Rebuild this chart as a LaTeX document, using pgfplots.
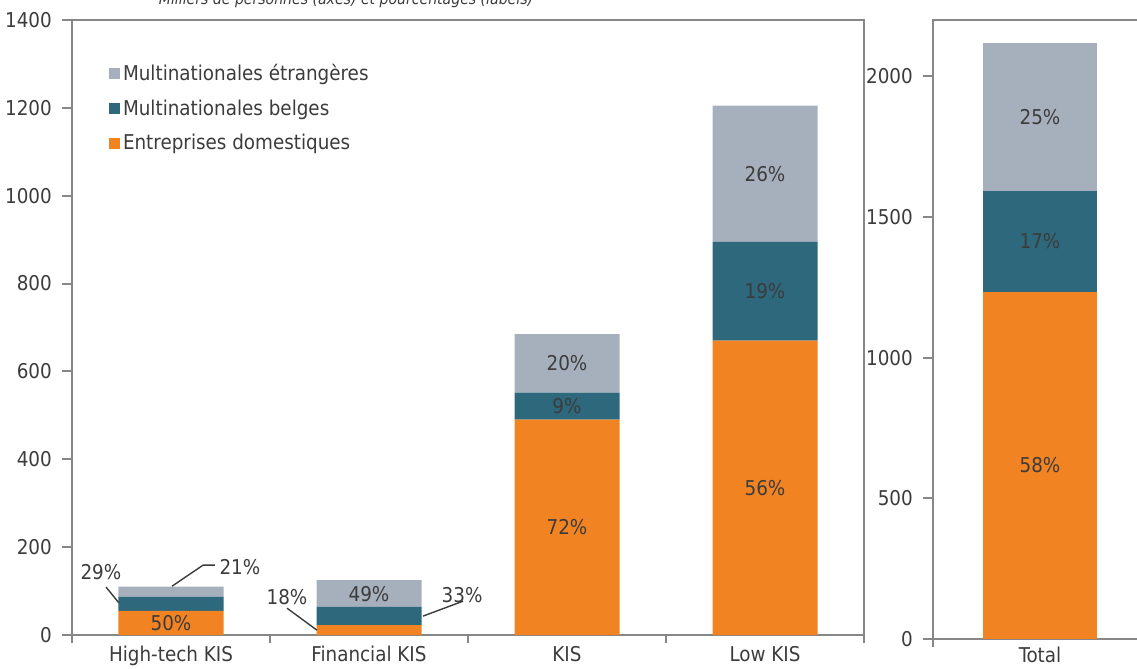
\documentclass[border=0pt]{standalone}
\usepackage{fontspec}
\setmainfont{DejaVu Sans Condensed}
\usepackage{pgfplots}
\pgfplotsset{compat=1.18}

\definecolor{dom}{HTML}{F28322}
\definecolor{bel}{HTML}{2D687D}
\definecolor{etr}{HTML}{A6B0BD}
\definecolor{axgray}{HTML}{878787}
\definecolor{txt}{HTML}{3C3C3C}

\newcommand{\lblfont}{\fontsize{11.6}{13}\selectfont}
\tikzset{
  pct/.style={font=\lblfont, text=txt},
  lead/.style={txt, line width=0.8pt},
}

\pgfplotsset{
  panel/.style={
    scale only axis, anchor=south west, clip=false,
    ybar stacked, ymin=0,
    axis line style={axgray, line width=1.1pt},
    tick style={axgray, line width=1.1pt},
    major tick length=0.2cm, minor tick length=0.16cm,
    tick align=outside,
    xtick pos=bottom, ytick pos=left,
    major x tick style={draw=none},
    /pgf/number format/assume math mode=true,
    /pgf/number format/1000 sep={},
    tick label style={font=\lblfont, text=txt},
    yticklabel style={xshift=-0.08cm},
  },
  % same frame, nothing drawn: carries the labels above the bars
  labels/.style={scale only axis, anchor=south west, clip=false, hide axis, ymin=0},
  leftframe/.style={at={(1.44cm,0.66cm)}, width=15.84cm, height=12.3cm,
    xmin=-0.5, xmax=3.5, ymax=1400},
  rightframe/.style={at={(18.66cm,0.58cm)}, width=4.28cm, height=12.38cm,
    xmin=-0.5, xmax=0.5, ymax=2200},
}

\begin{document}
\begin{tikzpicture}

\node[font=\fontsize{8.9}{10}\selectfont\itshape, text=txt, anchor=base]
  at (6.92,13.26) {Milliers de personnes (axes) et pourcentages (labels)};

% left panel: milliers de personnes par type de KIS
\begin{axis}[panel, leftframe,
  bar width=2.1cm,
  xtick={0,1,2,3},
  xticklabels={High-tech KIS, Financial KIS, KIS, Low KIS},
  xticklabel style={yshift=0.1cm},
  minor xtick={-0.5,0.5,1.5,2.5,3.5},
  ytick={0,200,...,1400},
  reverse legend,
  legend image code/.code={\fill[#1] (0cm,-0.11cm) rectangle (0.22cm,0.11cm);},
  legend style={draw=none, fill=none, at={(0.039,0.94)}, anchor=north west,
    font=\lblfont, text=txt, row sep=0.19cm,
    legend cell align=left},
]
\addplot[fill=dom, draw=none] coordinates {(0,55) (1,22.5) (2,490) (3,670)};
\addplot[fill=bel, draw=none] coordinates {(0,32) (1,41.5) (2,62) (3,225)};
\addplot[fill=etr, draw=none] coordinates {(0,23) (1,61) (2,133) (3,310)};
\legend{Entreprises domestiques, Multinationales belges, Multinationales étrangères}
\end{axis}

\begin{axis}[labels, leftframe]
\node[pct] at (axis cs:0,27.5) {50\%};
\node[pct] at (axis cs:-0.354,143) {29\%};
\draw[lead] (axis cs:-0.328,109) -- (axis cs:-0.263,73);
\node[pct] at (axis cs:0.348,155) {21\%};
\draw[lead] (axis cs:0.005,111) -- (axis cs:0.162,159) -- (axis cs:0.222,159);

\node[pct] at (axis cs:1,94) {49\%};
\node[pct] at (axis cs:0.586,86) {18\%};
\draw[lead] (axis cs:0.586,61) -- (axis cs:0.737,11);
\node[pct] at (axis cs:1.470,91) {33\%};
\draw[lead] (axis cs:1.273,43) -- (axis cs:1.475,77);

\node[pct] at (axis cs:2,245) {72\%};
\node[pct] at (axis cs:2,521) {9\%};
\node[pct] at (axis cs:2,618) {20\%};

\node[pct] at (axis cs:3,335) {56\%};
\node[pct] at (axis cs:3,782) {19\%};
\node[pct] at (axis cs:3,1050) {26\%};
\end{axis}

% right panel: total
\begin{axis}[panel, rightframe,
  bar width=2.28cm,
  xtick={0}, xticklabels={Total},
  xticklabel style={yshift=0.16cm},
  minor xtick={-0.5,0.5},
  ytick={0,500,...,2000},
]
\addplot[fill=dom, draw=none] coordinates {(0,1234)};
\addplot[fill=bel, draw=none] coordinates {(0,358)};
\addplot[fill=etr, draw=none] coordinates {(0,528)};
\end{axis}

\begin{axis}[labels, rightframe]
\node[pct] at (axis cs:0,617) {58\%};
\node[pct] at (axis cs:0,1413) {17\%};
\node[pct] at (axis cs:0,1856) {25\%};
\end{axis}

% crop the page to the reference's frame
\pgfresetboundingbox
\useasboundingbox (0,0) rectangle (22.74,13.36);
\end{tikzpicture}
\end{document}
